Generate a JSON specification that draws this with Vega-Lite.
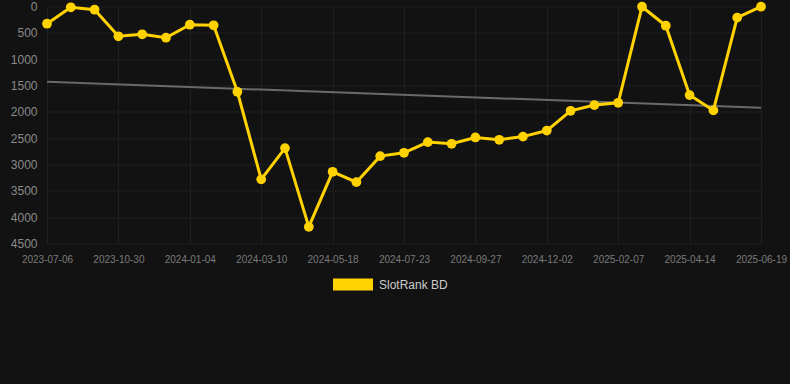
{
  "$schema": "https://vega.github.io/schema/vega-lite/v6.json",
  "autosize": {"type": "none"},
  "width": 749,
  "height": 237,
  "padding": {"left": 41, "top": 6.5, "right": 0, "bottom": 141},
  "background": "#121212",
  "config": {
    "view": {"stroke": null},
    "font": "Liberation Sans",
    "axis": {"domain": false, "ticks": false, "tickSize": 0, "gridColor": "#1f1f1f", "gridWidth": 1}
  },
  "datasets": {
    "rank": [
      {"date": "2023-07-06", "rank": 327},
      {"date": "2023-08-14", "rank": 15},
      {"date": "2023-09-22", "rank": 61},
      {"date": "2023-10-30", "rank": 566},
      {"date": "2023-11-21", "rank": 528},
      {"date": "2023-12-13", "rank": 593},
      {"date": "2024-01-04", "rank": 346},
      {"date": "2024-01-26", "rank": 357},
      {"date": "2024-02-17", "rank": 1619},
      {"date": "2024-03-10", "rank": 3282},
      {"date": "2024-04-02", "rank": 2689},
      {"date": "2024-04-25", "rank": 4185},
      {"date": "2024-05-18", "rank": 3139},
      {"date": "2024-06-09", "rank": 3335},
      {"date": "2024-07-01", "rank": 2841},
      {"date": "2024-07-23", "rank": 2778},
      {"date": "2024-08-14", "rank": 2575},
      {"date": "2024-09-05", "rank": 2607},
      {"date": "2024-09-27", "rank": 2486},
      {"date": "2024-10-19", "rank": 2531},
      {"date": "2024-11-10", "rank": 2470},
      {"date": "2024-12-02", "rank": 2355},
      {"date": "2024-12-24", "rank": 1980},
      {"date": "2025-01-16", "rank": 1872},
      {"date": "2025-02-07", "rank": 1828},
      {"date": "2025-03-01", "rank": 4},
      {"date": "2025-03-23", "rank": 365},
      {"date": "2025-04-14", "rank": 1682},
      {"date": "2025-05-06", "rank": 1973},
      {"date": "2025-05-28", "rank": 212},
      {"date": "2025-06-19", "rank": 4}
    ],
    "trend": [
      {"date": "2023-07-06", "rank": 1429},
      {"date": "2025-06-19", "rank": 1923}
    ]
  },
  "encoding": {
    "x": {
      "field": "date", "type": "ordinal", "sort": "ascending",
      "scale": {"type": "point", "range": [6, 720], "padding": 0},
      "axis": {
        "title": null, "labelAngle": 0, "labelAlign": "center", "labelBaseline": "top", "labelFontSize": 10, "labelColor": "#7a7a7a", "labelPadding": 11, "grid": true, "labelOverlap": false,
        "values": ["2023-07-06", "2023-10-30", "2024-01-04", "2024-03-10", "2024-05-18", "2024-07-23", "2024-09-27", "2024-12-02", "2025-02-07", "2025-04-14", "2025-06-19"]
      }
    },
    "y": {
      "field": "rank", "type": "quantitative",
      "scale": {"domain": [0, 4500], "reverse": true, "nice": false},
      "axis": {"title": null, "format": "d", "labelOverlap": false, "values": [0, 500, 1000, 1500, 2000, 2500, 3000, 3500, 4000, 4500], "labelFontSize": 12, "labelColor": "#8a8a8a", "labelPadding": 4}
    }
  },
  "layer": [
    {
      "data": {"name": "trend"},
      "mark": {"type": "line", "color": "#6a6a6a", "strokeWidth": 2}
    },
    {
      "data": {"name": "rank"},
      "mark": {"type": "line", "strokeWidth": 3, "point": {"filled": true, "size": 95, "opacity": 1}},
      "encoding": {
        "color": {
          "datum": "SlotRank BD",
          "scale": {"range": ["#FFD200"]},
          "legend": {
            "title": null, "orient": "none", "legendX": 292, "legendY": 258,
            "symbolType": "M-1,-0.3H1V0.3H-1Z", "symbolSize": 1600, "symbolStrokeWidth": 0,
            "labelColor": "#cccccc", "labelFontSize": 12, "labelOffset": 6
          }
        }
      }
    }
  ]
}
